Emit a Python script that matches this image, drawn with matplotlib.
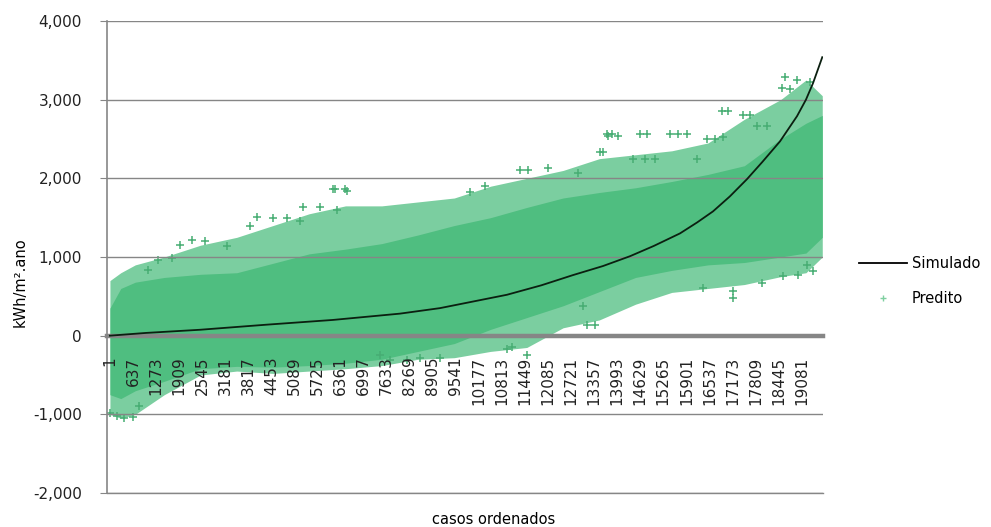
import matplotlib
matplotlib.use("Agg")
import matplotlib.pyplot as plt
from matplotlib.lines import Line2D

# simulated consumption, sorted (case index -> kWh/m2.ano)
sim_case = [1, 1000, 2484, 4332, 6153, 8000, 9104, 10952, 11900, 12773, 13600,
            14346, 15000, 15725, 16200, 16636, 17100, 17574, 18000, 18484, 18953,
            19200, 19395, 19650]
sim_val = [0, 35, 75, 140, 200, 280, 350, 520, 640, 770, 885,
           1010, 1140, 1300, 1440, 1580, 1770, 1990, 2210, 2470, 2790,
           3000, 3210, 3540]

# predicted cloud: dense core and sparse fringe limits
band_case = [1, 300, 700, 1500, 2500, 3500, 4500, 5500, 6500, 7500, 8500, 9500,
             10500, 11500, 12500, 13500, 14500, 15500, 16500, 17500, 18500,
             19200, 19650]
core_hi = [350, 600, 680, 740, 780, 800, 920, 1040, 1100, 1170, 1280, 1400,
           1500, 1630, 1750, 1820, 1880, 1960, 2050, 2160, 2500, 2700, 2800]
core_lo = [-750, -800, -700, -580, -420, -390, -400, -380, -350, -300, -200, -100,
           80, 230, 380, 560, 740, 830, 900, 930, 1000, 1050, 1250]
fringe_hi = [700, 800, 900, 1000, 1150, 1250, 1400, 1550, 1650, 1650, 1700, 1750,
             1900, 2000, 2100, 2250, 2300, 2350, 2450, 2750, 3000, 3250, 3050]
fringe_lo = [-1000, -1050, -1000, -750, -500, -450, -480, -450, -420, -380, -300,
             -280, -200, -150, 100, 200, 400, 550, 600, 650, 750, 800, 1000]

# isolated predicted points outside the fringe
out_case = [13711, 13849, 14620, 14814, 13600, 14428, 14759, 15034, 11310, 11531,
            12083, 12910, 6207, 6483, 10345, 9931, 6151, 6538, 5324, 5793, 6262,
            4055, 4497, 4883, 5241, 3862, 1931, 2262, 2621, 1324, 1711, 3228, 1048,
            18621, 18952, 19310, 18538, 18759, 16883, 17049, 17462, 17655, 13738,
            14014, 15448, 15669, 15917, 16469, 16690, 16910, 13517, 16193, 17849,
            18124, 18566, 18980, 17187, 17187, 16359, 17987, 13048, 13159, 13380,
            19228, 19394, 10952, 11090, 11504, 9104, 8194, 8552, 7449, 7725,
            1, 200, 400, 635, 800]
out_val = [2560, 2560, 2560, 2560, 2330, 2245, 2245, 2245, 2105, 2105,
           2130, 2070, 1865, 1865, 1900, 1830, 1865, 1840, 1640, 1640, 1600,
           1510, 1490, 1490, 1460, 1400, 1150, 1210, 1200, 960, 985, 1135, 830,
           3290, 3250, 3230, 3150, 3140, 2850, 2850, 2810, 2810, 2535,
           2535, 2560, 2560, 2560, 2500, 2500, 2520, 2330, 2245, 2660,
           2660, 760, 770, 570, 480, 605, 670, 380, 140, 140,
           895, 820, -175, -150, -240, -280, -315, -280, -240, -315,
           -980, -1020, -1050, -1030, -900]

x_ticks = list(range(1, 19082, 636))
y_ticks = [-2000, -1000, 0, 1000, 2000, 3000, 4000]

green = "#4fbe80"
grey = "#868686"

plt.rcParams["font.family"] = ["DejaVu Sans"]

fig = plt.figure(figsize=(9.91, 5.27), dpi=100)
ax = fig.add_axes([107 / 991, 1 - 493 / 527, (823 - 107) / 991, 472 / 527])

# category axis crosses at zero; set this before styling ticks
ax.spines["bottom"].set_position(("data", 0))
ax.spines["bottom"].set_color(grey)
ax.spines["bottom"].set_linewidth(3.2)
ax.spines["bottom"].set_zorder(4)
for s in ["top", "right"]:
    ax.spines[s].set_visible(False)
ax.spines["left"].set_color(grey)
ax.spines["left"].set_linewidth(1.2)

ax.fill_between(band_case, fringe_lo, fringe_hi, color=green, alpha=0.75,
                lw=0, zorder=1)
ax.fill_between(band_case, core_lo, core_hi, color=green, lw=0, zorder=1.2)
ax.scatter(out_case, out_val, marker="+", s=30, color="#47ad73", lw=1.1, zorder=2)
ax.plot(sim_case, sim_val, color="#0b1f10", lw=1.3, zorder=5)

ax.set_xlim(-80, 19670)
ax.set_ylim(-2000, 4000)
ax.set_yticks(y_ticks)
ax.set_yticklabels([f"{v:,}" for v in y_ticks])
ax.set_xticks(x_ticks)
ax.set_xticklabels([str(v) for v in x_ticks], rotation=90)

# grid and tick labels sit on top of the cloud
ax.grid(axis="y", color=grey, lw=1.0)
ax.axhline(-2000, color=grey, lw=1.0, clip_on=False)
ax.set_axisbelow(False)

ax.tick_params(axis="y", length=5, pad=13, color=grey, labelsize=11,
               labelcolor="#222222")
ax.tick_params(axis="x", length=0, pad=15, labelsize=11, labelcolor="#222222")

fig.text(20 / 991, 1 - 282 / 527, "kWh/m\u00b2.ano", rotation=90,
         ha="center", va="center", fontsize=10.5)
fig.text(494 / 991, 1 - 520 / 527, "casos ordenados", ha="center",
         va="center", fontsize=10.5)

handles = [Line2D([], [], color="black", lw=1.3),
           Line2D([], [], color="#7fcfa0", marker="+", ls="none", ms=4)]
fig.legend(handles, ["Simulado", "Predito"], loc="center left",
           bbox_to_anchor=(846 / 991, 1 - 281 / 527), frameon=False,
           fontsize=10.5, handlelength=3.3, labelspacing=1.4, handletextpad=0.3)

fig.savefig("out.png", dpi=100)
